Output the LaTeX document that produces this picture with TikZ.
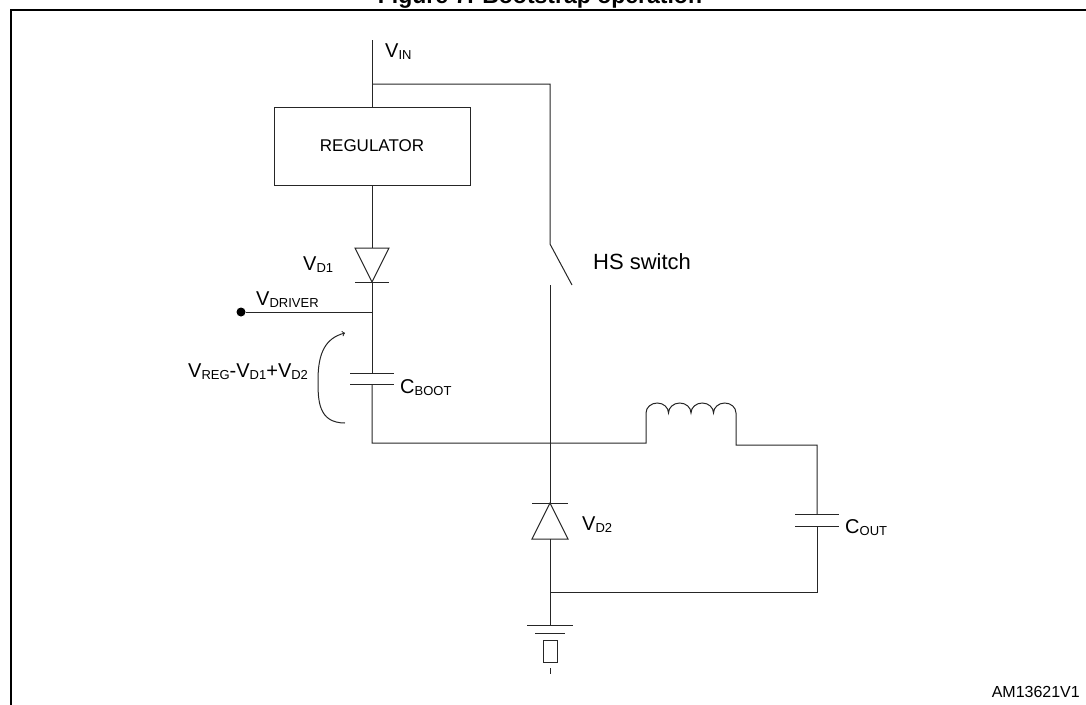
\documentclass[tikz,border=0pt]{standalone}
\usepackage{fontspec}
\setmainfont{Liberation Sans}
\usetikzlibrary{arrows}
\tikzset{>=to}
\tikzset{wire/.style={draw=black!85,line width=1pt}}
\tikzset{lbl/.style={anchor=base west,inner sep=0pt,font=\fontsize{20}{20}\selectfont}}
\newcommand{\vsub}[2]{#1\raisebox{-2.5pt}{\fontsize{13}{13}\selectfont #2}}

\begin{document}
\begin{tikzpicture}[x=1pt,y=-1pt]
    \useasboundingbox (0,0) rectangle (1086,704);
    \draw[line width=2.5pt] (11,720) -- (11,10) -- (1100,10);
    \node[anchor=base,inner sep=0pt,font=\bfseries\fontsize{23}{23}\selectfont] (title) at (540,4) {Figure 7. Bootstrap operation};
    \node[draw=black!85,line width=1pt,minimum width=196,minimum height=78,inner sep=0pt,font=\fontsize{17}{17}\selectfont] (REG) at (372,146) {REGULATOR};
    \coordinate (VINt) at (372,40);
    \coordinate (VINs) at (372,84);
    \coordinate (SWa) at (550,84);
    \coordinate (SWb) at (550,244);
    \coordinate (SWc) at (572,285);
    \coordinate (SWd) at (550,285);
    \coordinate (D1a) at (372,248);
    \coordinate (D1k) at (372,282);
    \coordinate (DRV) at (372,312);
    \node[circle,fill=black,inner sep=0pt,minimum size=9] (DOT) at (241,312) {};
    \coordinate (CBa) at (372,373);
    \coordinate (CBb) at (372,384);
    \coordinate (SW) at (372,443);
    \coordinate (L1) at (646,443);
    \coordinate (L2) at (736,445);
    \coordinate (CO0) at (817,445);
    \coordinate (COa) at (817,514);
    \coordinate (COb) at (817,526);
    \coordinate (CO1) at (817,592);
    \coordinate (GNDj) at (550,592);
    \coordinate (D2k) at (550,503);
    \coordinate (D2a) at (550,539);
    \coordinate (GND) at (550,625);
    \coordinate (ARa) at (345,423);
    \coordinate (ARb) at (345,333);
    % supply and high side switch
    \draw[wire] (VINt) -- (REG.north);
    \draw[wire] (VINs) -- (SWa) -- (SWb) -- (SWc);
    \draw[wire] (SWd) -- (D2k);
    % bootstrap diode and capacitor
    \draw[wire] (REG.south) -- (D1a);
    \draw[wire] (D1a) +(-17,0) -- +(17,0) -- (D1k) -- cycle;
    \draw[wire] (D1k) +(-17,0) -- +(17,0);
    \draw[wire] (D1k) -- (CBa);
    \draw[wire] (DOT) -- (DRV);
    \draw[wire] (CBa) +(-22,0) -- +(22,0) (CBb) +(-22,0) -- +(22,0);
    \draw[wire] (CBb) -- (SW) -- (L1) -- ++(0,-30)
      arc[start angle=180,end angle=360,x radius=11.25,y radius=10]
      arc[start angle=180,end angle=360,x radius=11.25,y radius=10]
      arc[start angle=180,end angle=360,x radius=11.25,y radius=10]
      arc[start angle=180,end angle=360,x radius=11.25,y radius=10]
      -- (L2) -- (CO0) -- (COa);
    \draw[wire] (COa) +(-22,0) -- +(22,0) (COb) +(-22,0) -- +(22,0);
    \draw[wire] (COb) -- (CO1) -- (GNDj);
    % freewheeling diode and ground
    \draw[wire] (D2a) +(-18,0) -- +(18,0) -- (D2k) -- cycle;
    \draw[wire] (D2k) +(-18,0) -- +(18,0);
    \draw[wire] (D2a) -- (GND);
    \draw[wire] (GND) +(-23,0) -- +(23,0);
    \draw[wire] ([shift={(-15,8)}]GND) -- ([shift={(15,8)}]GND);
    \draw[wire] ([shift={(-7,15)}]GND) rectangle ([shift={(7,37)}]GND);
    \draw[wire] ([shift={(0,43)}]GND) -- ([shift={(0,49)}]GND);
    \draw[wire,->] (ARa) .. controls (318,423) and (318,400) .. (318,380)
      .. controls (318,352) and (326,338) .. (ARb);
    % labels
    \node[lbl] (VIN) at (385,57) {\vsub{V}{IN}};
    \node[lbl] (VD1) at (303,270) {\vsub{V}{D1}};
    \node[lbl] (VDRV) at (256,305) {\vsub{V}{DRIVER}};
    \node[lbl] (VREG) at (188,377) {\vsub{V}{REG}-\vsub{V}{D1}+\vsub{V}{D2}};
    \node[lbl] (CBT) at (400,393) {\vsub{C}{BOOT}};
    \node[lbl,font=\fontsize{22}{22}\selectfont] (HSW) at (593,269) {HS switch};
    \node[lbl] (VD2) at (582,530) {\vsub{V}{D2}};
    \node[lbl] (COUT) at (845,533) {\vsub{C}{OUT}};
    \node[anchor=base east,inner sep=0pt,font=\fontsize{16}{16}\selectfont] (ID) at (1080,697) {AM13621V1};
\end{tikzpicture}
\end{document}
